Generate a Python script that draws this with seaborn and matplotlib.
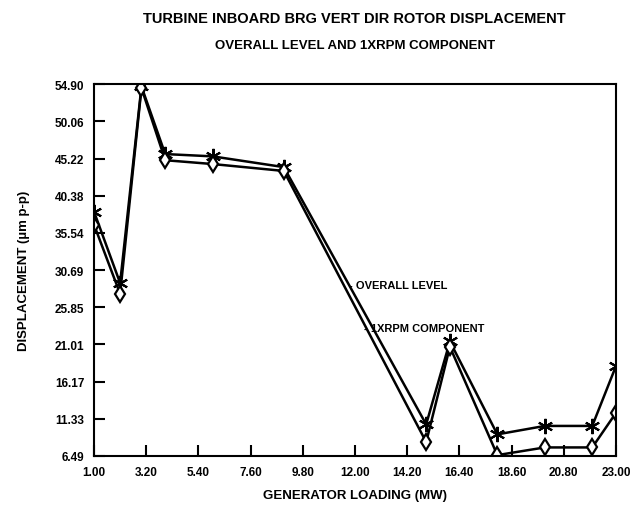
import numpy as np
import pandas as pd
import seaborn as sns
import matplotlib.pyplot as plt

# generator loading (MW) and rotor displacement (um p-p)
load_mw = [1.0, 2.1, 3.0, 4.0, 6.0, 9.0, 15.0, 16.0, 18.0, 20.0, 22.0, 23.0]
overall_level = [38.3, 29.0, 54.6, 45.8, 45.5, 44.1, 10.6, 21.4, 9.3, 10.4, 10.4, 18.2]
one_x_rpm = [36.6, 27.6, 54.4, 45.0, 44.5, 43.6, 8.3, 20.7, 6.6, 7.6, 7.6, 12.1]

x_ticks = [1.00, 3.20, 5.40, 7.60, 9.80, 12.00, 14.20, 16.40, 18.60, 20.80, 23.00]
y_ticks = [6.49, 11.33, 16.17, 21.01, 25.85, 30.69, 35.54, 40.38, 45.22, 50.06, 54.90]

df = pd.DataFrame({
    "load": load_mw * 2,
    "disp": overall_level + one_x_rpm,
    "series": ["OVERALL LEVEL"] * len(load_mw) + ["1XRPM COMPONENT"] * len(load_mw),
})

sns.set_style("white")
plt.rcParams["font.family"] = ["Liberation Sans", "DejaVu Sans"]
plt.rcParams["font.weight"] = "bold"
plt.rcParams["text.color"] = "black"
plt.rcParams["axes.labelcolor"] = "black"

fig = plt.figure(figsize=(6.37, 5.10), dpi=100)
ax = fig.add_axes([0.1476, 0.104, 0.8194, 0.729])

sns.lineplot(data=df[df.series == "OVERALL LEVEL"], x="load", y="disp", ax=ax,
             color="black", linewidth=1.8, marker=(6, 2, 0), markersize=11,
             markeredgewidth=1.5, markeredgecolor="black")
sns.lineplot(data=df[df.series == "1XRPM COMPONENT"], x="load", y="disp", ax=ax,
             color="black", linewidth=1.8, marker="d", markersize=8,
             markerfacecolor="white", markeredgewidth=1.6, markeredgecolor="black")

ax.set_xlim(1.0, 23.0)
ax.set_ylim(6.49, 54.90)
ax.set_xticks(x_ticks)
ax.set_xticklabels([f"{v:.2f}" for v in x_ticks])
ax.set_yticks(y_ticks)
ax.set_yticklabels([f"{v:.2f}" for v in y_ticks])
ax.tick_params(direction="in", length=8, width=1.5, colors="black",
               labelsize=8.5, pad=7, bottom=True, left=True)
for s in ax.spines.values():
    s.set_color("black")
    s.set_linewidth(1.5)

ax.set_xlabel("GENERATOR LOADING (MW)", fontsize=9.5, fontweight="bold", labelpad=8)
ax.set_ylabel("DISPLACEMENT (\u00b5m p-p)", fontsize=9.5, fontweight="bold", labelpad=18)

fig.text(0.557, 0.963, "TURBINE INBOARD BRG VERT DIR ROTOR DISPLACEMENT",
         ha="center", va="center", fontsize=10.5, fontweight="bold")
fig.text(0.557, 0.910, "OVERALL LEVEL AND 1XRPM COMPONENT",
         ha="center", va="center", fontsize=9.5, fontweight="bold")

ax.text(11.75, 28.8, "- OVERALL LEVEL", ha="left", va="center", fontsize=8, fontweight="bold")
ax.text(12.4, 23.1, "- 1XRPM COMPONENT", ha="left", va="center", fontsize=8, fontweight="bold")

fig.savefig("out.png", dpi=100)
